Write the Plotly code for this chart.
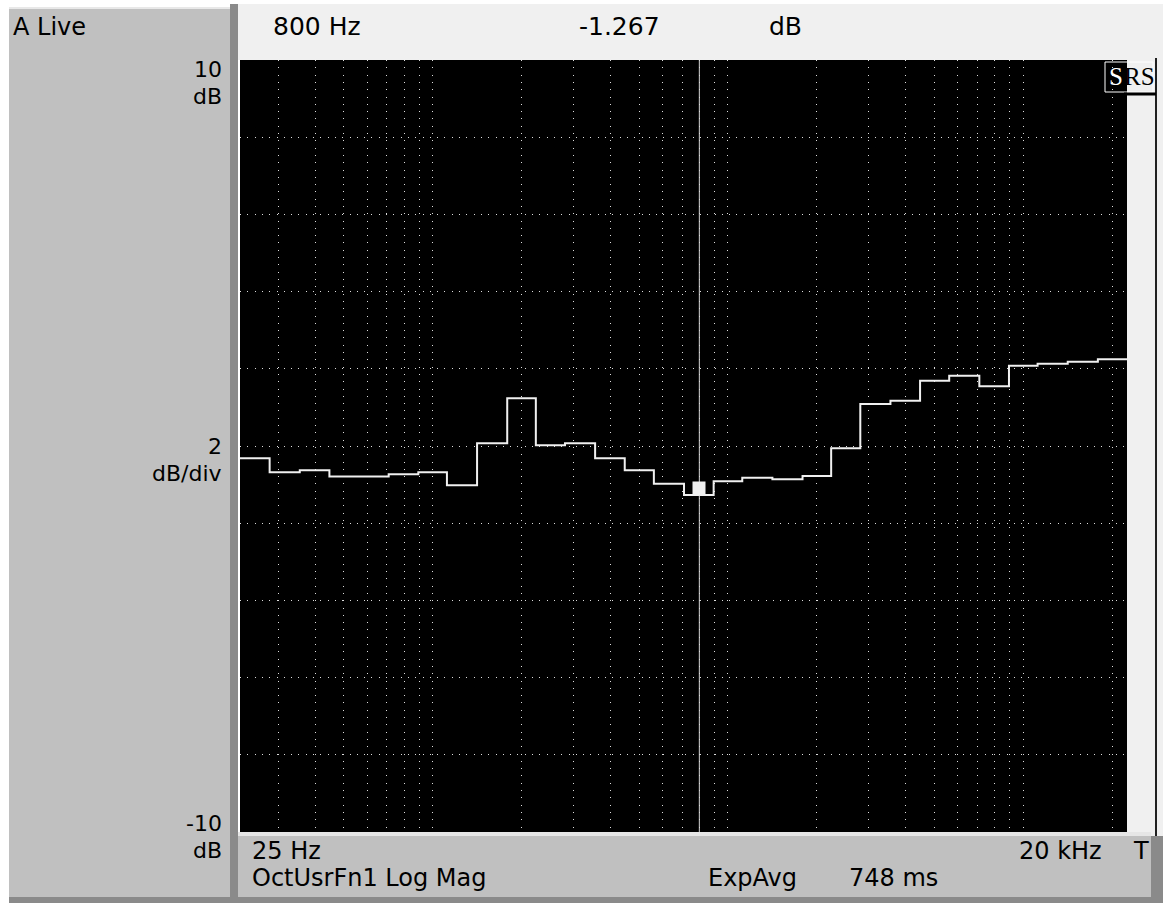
import numpy as np
import plotly.graph_objects as go

# 1/3-octave band centres (Hz) and measured levels (dB)
FREQS = [25, 31.5, 40, 50, 63, 80, 100, 125, 160, 200, 250, 315, 400, 500, 630,
         800, 1000, 1250, 1600, 2000, 2500, 3150, 4000, 5000, 6300, 8000,
         10000, 12500, 16000, 20000]
LEVELS = [-0.32, -0.68, -0.63, -0.79, -0.79, -0.73, -0.68, -1.02, 0.07, 1.24,
          0.02, 0.07, -0.32, -0.63, -0.98, -1.267, -0.91, -0.82, -0.86, -0.78,
          -0.06, 1.09, 1.17, 1.69, 1.82, 1.55, 2.08, 2.13, 2.18, 2.25]

CURSOR_HZ = 800
CURSOR_DB = -1.267
Y_RANGE = [-10, 10]
Y_DIV = 2

TOP_TEXT = ['800 Hz', '-1.267', 'dB']
SIDE_TEXT = ['10', 'dB', '2', 'dB/div', '-10', 'dB']
STATUS_TEXT = ['25 Hz', 'OctUsrFn1 Log Mag', 'ExpAvg', '748 ms', '20 kHz', 'T']

W, H = 1163, 903
ML, MR, MT, MB = 240, 36, 60, 71
PW, PH = W - ML - MR, H - MT - MB
FONT = 'DejaVu Sans'
PANEL = '#c0c0c0'
LIGHT = '#f0f0f0'
BORDER = '#8a8a8a'
GRID = '#dcdcdc'


def px(x):
    return (x - ML) / PW


def py(y):
    return (H - MB - y) / PH


# band edges -> step line
freqs = np.array(FREQS, dtype=float)
edges = np.concatenate([[freqs[0] / 2 ** (1 / 6)],
                        np.sqrt(freqs[:-1] * freqs[1:]),
                        [freqs[-1] * 2 ** (1 / 6)]])
levels = LEVELS + [LEVELS[-1]]

fig = go.Figure()
fig.add_trace(go.Scatter(
    x=edges, y=levels, mode='lines', line_shape='hv',
    line=dict(color='#f0f0f0', width=2), hoverinfo='skip'))
# cursor
fig.add_trace(go.Scatter(
    x=[CURSOR_HZ, CURSOR_HZ], y=Y_RANGE, mode='lines',
    line=dict(color='#d4d4d4', width=1), hoverinfo='skip'))

fig.update_layout(
    width=W, height=H, showlegend=False,
    margin=dict(l=ML, r=MR, t=MT, b=MB),
    paper_bgcolor='#ffffff', plot_bgcolor='#000000',
)
fig.update_xaxes(
    type='log', range=[np.log10(edges[0]), np.log10(edges[-1])],
    dtick='D1', showticklabels=False, ticks='',
    showgrid=True, gridcolor=GRID, gridwidth=1, griddash='1px,6.3px',
    zeroline=False, showline=False,
)
fig.update_yaxes(
    range=Y_RANGE, dtick=Y_DIV, showticklabels=False, ticks='',
    showgrid=True, gridcolor=GRID, gridwidth=1, griddash='1px,6.3px',
    zeroline=False, showline=False,
)


def rect(x0, y0, x1, y1, fill, layer='below'):
    fig.add_shape(type='rect', xref='paper', yref='paper',
                  x0=px(x0), x1=px(x1), y0=py(y1), y1=py(y0),
                  fillcolor=fill, line=dict(width=0), layer=layer)


# panels (kept outside the plotting area)
rect(232, 4, 1163, 60, LIGHT)
rect(1127, 60, 1163, 840, LIGHT)
rect(9, 7, 230, 897, PANEL)
rect(9, 7, 230, 9, '#e8e8e8')
rect(230, 4, 238, 903, BORDER)
rect(238, 832, 1151, 897, PANEL)
rect(238, 832, 1151, 836, '#e6e6e6')
rect(1151, 836, 1163, 903, BORDER)
rect(9, 897, 1163, 903, BORDER)
rect(1155, 58, 1157, 836, '#202020')


def label(text, x, y, size=24, xanchor='left', color='black', family=FONT):
    fig.add_annotation(text=text, x=px(x), y=py(y), xref='paper', yref='paper',
                       xanchor=xanchor, yanchor='middle', showarrow=False,
                       borderpad=0,
                       font=dict(family=family, size=size, color=color))


label('A Live', 12, 27, size=24)
for t, x in zip(TOP_TEXT, [272, 578, 768]):
    label(t, x, 26, size=25)
for t, y in zip(SIDE_TEXT, [69, 96, 446, 473, 823, 850]):
    label(t, 223, y, size=22, xanchor='right')
for t, x, y, a in zip(STATUS_TEXT,
                      [251, 251, 707, 848, 1103, 1132],
                      [851, 878, 878, 878, 851, 851],
                      ['left', 'left', 'left', 'left', 'right', 'left']):
    label(t, x, y, size=24, xanchor=a)

# SRS logo
fig.add_shape(type='rect', xref='paper', yref='paper',
              x0=px(1105), x1=px(1153), y0=py(92), y1=py(62),
              line=dict(color='#ffffff', width=1))
fig.add_shape(type='line', xref='paper', yref='paper',
              x0=px(1124), x1=px(1156), y0=py(94), y1=py(94),
              line=dict(color='#000000', width=3))
label('S', 1116, 77, size=25, xanchor='center', color='#ffffff',
      family='Liberation Serif')
label('RS', 1139, 77, size=25, xanchor='center', color='#000000',
      family='Liberation Serif')

# cursor marker sitting on the trace
fig.add_annotation(x=np.log10(CURSOR_HZ), y=CURSOR_DB, xref='x', yref='y',
                   text='', showarrow=False, width=12, height=13,
                   bgcolor='#f0f0f0', yshift=6, borderpad=0)

fig.write_html('out.html', config={'displayModeBar': False},
               post_script="document.body.style.margin='0';")
